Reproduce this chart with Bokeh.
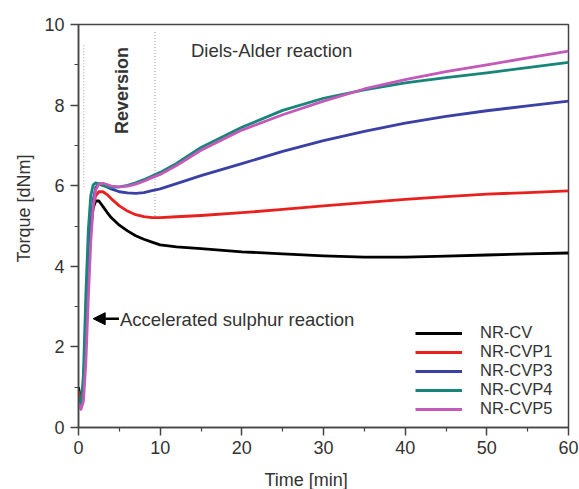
import math
from bokeh.plotting import figure
from bokeh.models import Label, Arrow, NormalHead, Range1d, FixedTicker, Title
from bokeh.embed import file_html
from bokeh.resources import INLINE

# ---- data ----
time_min = [0, 0.3, 0.6, 0.9, 1.2, 1.5, 1.8, 2.1, 2.5, 3, 3.5, 4, 5, 6, 7, 8, 9,
            10, 12, 15, 20, 25, 30, 35, 40, 45, 50, 55, 60]

nr_cv = [1.0, 0.65, 1.0, 2.4, 4.0, 5.0, 5.45, 5.62, 5.62, 5.48, 5.34, 5.21, 5.02, 4.88,
         4.76, 4.67, 4.6, 4.53, 4.48, 4.44, 4.36, 4.31, 4.26, 4.23, 4.23, 4.25, 4.28, 4.31, 4.33]
nr_cvp1 = [0.9, 0.6, 1.0, 2.3, 3.9, 4.9, 5.5, 5.75, 5.85, 5.85, 5.78, 5.68, 5.5, 5.37,
           5.28, 5.23, 5.21, 5.21, 5.23, 5.26, 5.33, 5.41, 5.5, 5.58, 5.66, 5.73, 5.79, 5.83, 5.87]
nr_cvp3 = [0.7, 0.5, 0.9, 2.2, 3.9, 5.0, 5.65, 5.95, 6.05, 6.03, 5.97, 5.92, 5.85, 5.82,
           5.81, 5.83, 5.88, 5.92, 6.05, 6.25, 6.55, 6.85, 7.12, 7.35, 7.55, 7.72, 7.86, 7.98, 8.1]
nr_cvp4 = [0.75, 0.5, 1.3, 3.3, 4.9, 5.75, 6.02, 6.07, 6.04, 6.0, 5.97, 5.96, 5.97, 6.01,
           6.07, 6.15, 6.24, 6.33, 6.55, 6.95, 7.45, 7.87, 8.17, 8.38, 8.55, 8.68, 8.8, 8.93, 9.06]
nr_cvp5 = [0.6, 0.45, 0.65, 1.6, 3.2, 4.6, 5.5, 5.9, 6.04, 6.06, 6.03, 5.99, 5.97, 5.99,
           6.04, 6.11, 6.2, 6.28, 6.5, 6.88, 7.38, 7.76, 8.1, 8.4, 8.63, 8.83, 9.0, 9.17, 9.34]

series_names = ["NR-CV", "NR-CVP1", "NR-CVP3", "NR-CVP4", "NR-CVP5"]
series_values = [nr_cv, nr_cvp1, nr_cvp3, nr_cvp4, nr_cvp5]
series_colors = ["#000000", "#e8211f", "#3a40a6", "#17857a", "#c35ab9"]

x_ticks = [0, 10, 20, 30, 40, 50, 60]
x_minor = [5, 15, 25, 35, 45, 55]
y_ticks = [0, 2, 4, 6, 8, 10]
y_minor = [1, 3, 5, 7, 9]

# region marker lines (time, y from, y to)
marker1 = (0.64, 5.96, 9.52)
marker2 = (9.36, 5.25, 9.83)

FONT = "Liberation Sans"
TXT = "#333333"

p = figure(width=579, height=489, output_backend="svg", toolbar_location=None,
           x_range=Range1d(0, 60), y_range=Range1d(0, 10),
           min_border_left=78, min_border_right=11, min_border_top=24, min_border_bottom=62)
p.background_fill_color = "white"
p.border_fill_color = "white"
p.grid.visible = False
p.outline_line_color = "#444444"
p.outline_line_width = 1.5

for ax in (p.xaxis[0], p.yaxis[0]):
    ax.axis_line_color = "#444444"
    ax.axis_line_width = 1.5
    ax.major_tick_line_color = "#444444"
    ax.minor_tick_line_color = "#444444"
    ax.major_tick_line_width = 1.5
    ax.minor_tick_line_width = 1.2
    ax.major_tick_out = 8
    ax.major_tick_in = 0
    ax.minor_tick_out = 4
    ax.minor_tick_in = 0
    ax.major_label_text_font = FONT
    ax.major_label_text_font_size = "18px"
    ax.major_label_text_color = TXT
p.xaxis[0].ticker = FixedTicker(ticks=x_ticks, minor_ticks=x_minor)
p.yaxis[0].ticker = FixedTicker(ticks=y_ticks, minor_ticks=y_minor)
p.xaxis.major_label_standoff = 5
p.yaxis.major_label_standoff = 6
# tiny blank axis label only reserves a little room below the tick labels
p.xaxis.axis_label = " "
p.xaxis.axis_label_text_font_size = "1px"
p.xaxis.axis_label_standoff = 7

# axis titles as offset titles
p.add_layout(Title(text="Time [min]", align="left", offset=186, text_font=FONT,
                   text_font_size="18px", text_font_style="normal", text_color=TXT,
                   standoff=0), "below")
p.add_layout(Title(text="Torque [dNm]", align="left", offset=165, text_font=FONT,
                   text_font_size="18px", text_font_style="normal", text_color=TXT,
                   standoff=15), "left")

# dotted region markers
for (mx, y0, y1) in (marker1, marker2):
    p.line([mx, mx], [y0, y1], line_color="#b0b0b0", line_width=1.2, line_dash="1 2")

for name, vals, col in zip(series_names, series_values, series_colors):
    p.line(time_min, vals, line_color=col, line_width=2.8, line_join="round",
           legend_label=name)

leg = p.legend[0]
leg.location = (337, 9)
leg.border_line_alpha = 0
leg.background_fill_alpha = 0
leg.padding = 0
leg.margin = 0
leg.spacing = 0
leg.glyph_width = 47
leg.glyph_height = 18
leg.label_height = 18
leg.label_standoff = 18
leg.label_text_font = FONT
leg.label_text_font_size = "16.5px"
leg.label_text_color = TXT

# annotations
p.add_layout(Label(x=13.77, y=9.35, text="Diels-Alder reaction", text_font=FONT,
                   text_font_size="18.5px", text_color=TXT, text_baseline="middle"))
p.add_layout(Label(x=5.27, y=8.36, text="Reversion", text_font=FONT, angle=math.pi / 2,
                   text_font_size="18px", text_font_style="bold", text_color=TXT,
                   text_align="center", text_baseline="middle"))
p.add_layout(Arrow(x_start=4.95, y_start=2.7, x_end=1.8, y_end=2.7, line_color="black",
                   line_width=2.5,
                   end=NormalHead(size=12, fill_color="black", line_color="black")))
p.add_layout(Label(x=5.07, y=2.68, text="Accelerated sulphur reaction", text_font=FONT,
                   text_font_size="18.5px", text_color=TXT, text_baseline="middle"))

open("out.html", "w").write(file_html(p, INLINE))
